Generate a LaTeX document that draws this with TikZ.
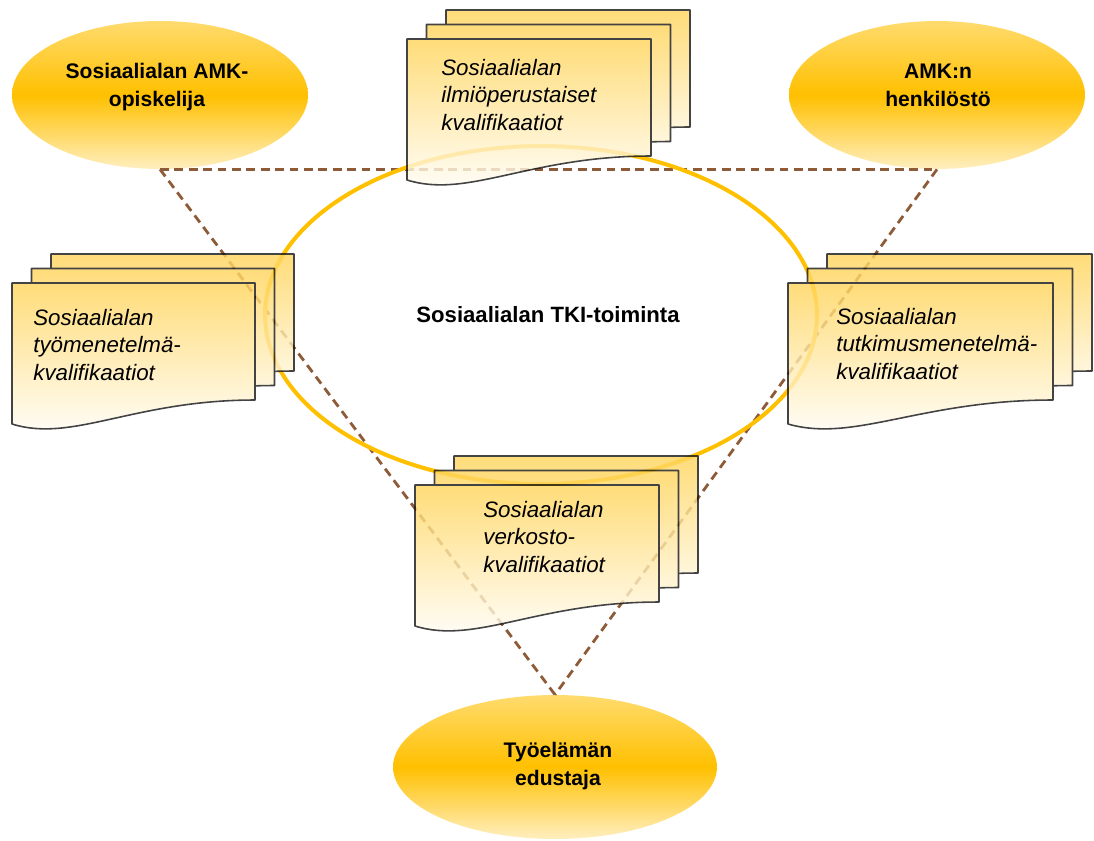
\documentclass[tikz,border=0pt]{standalone}
\usepackage{fontspec}
\setmainfont{Liberation Sans}
\usetikzlibrary{shapes.geometric}
\definecolor{ringc}{HTML}{FFC000}
\definecolor{dashc}{HTML}{8E5B38}
\definecolor{elltop}{HTML}{FFDB6E}
\definecolor{ellmid}{HTML}{FFC000}
\definecolor{ellbot}{HTML}{FFEFC0}
\definecolor{doctop}{HTML}{FFD55C}
\definecolor{docline}{HTML}{1A1A1A}
\tikzset{
  actor/.style={ellipse, inner sep=0pt, top color=elltop, bottom color=ellbot, middle color=ellmid, minimum width=5.92cm, minimum height=2.96cm},
  elltext/.style={font=\fontsize{12}{15.4}\selectfont\bfseries, align=center, inner sep=0pt},
  doctext/.style={font=\fontsize{12.7}{15.4}\selectfont\itshape, align=left, inner sep=0pt},
  docsheetstyle/.style={draw=docline, line width=0.9pt, top color=doctop, bottom color=white, line join=round},
  stackgroup/.style={transparency group, opacity=0.82},
  linkline/.style={draw=dashc, line width=1.6pt, dash pattern=on 5pt off 3.2pt},
  ringstyle/.style={ellipse, draw=ringc, line width=2.3pt, minimum width=11.04cm, minimum height=6.76cm, inner sep=0pt,
    font=\fontsize{12.6}{15}\selectfont\bfseries}
}
\newcommand\docsheet[3]{%
  \begin{scope}[shift={(#1,#2)}]
    \path[docsheetstyle] (0,0) -- (#3,0) -- (#3,117) .. controls ({0.5*#3},117) and ({0.25*#3},160) .. (0,141) -- cycle;
  \end{scope}}
\newcommand\docstack[3]{%
  \begin{scope}[stackgroup]
  \docsheet{#1+39}{#2-29}{#3}%
  \docsheet{#1+19.5}{#2-14.5}{#3}%
  \docsheet{#1}{#2}{#3}%
  \end{scope}}
\begin{document}
\begin{tikzpicture}[x=0.02cm, y=-0.02cm]
  \useasboundingbox (0,0) rectangle (1094,840);
  % actors
  \node[actor] (stud) at (160,95) {};
  \node[actor] (staff) at (937,95) {};
  \node[actor, minimum width=6.48cm, minimum height=2.88cm] (work) at (555,767) {};
  \node[elltext, anchor=base] (studt) at (157,106) {Sosiaalialan AMK-\\opiskelija};
  \node[elltext, anchor=base] (stafft) at (938,106) {AMK:n\\henkilöstö};
  \node[elltext, anchor=base] (workt) at (558,785) {Työelämän\\edustaja};
  % dashed triangle
  \draw[linkline] (stud.south) -- (staff.south);
  \draw[linkline] (stud.south) -- (work.north);
  \draw[linkline] (staff.south) -- (work.north);
  % central ring
  \node[ringstyle] (tki) at (541,315) {\hspace{8pt}Sosiaalialan TKI-toiminta};
  % document stacks
  \docstack{407}{39}{244}
  \docstack{12}{283}{243}
  \docstack{788}{283}{265}
  \docstack{415}{485}{244}
  \node[doctext, anchor=base west] (d1) at (441,130) {Sosiaalialan\\ilmiöperustaiset\\kvalifikaatiot};
  \node[doctext, anchor=base west] (d2) at (33,380) {Sosiaalialan\\työmenetelmä-\\kvalifikaatiot};
  \node[doctext, anchor=base west] (d3) at (836,379) {Sosiaalialan\\tutkimusmenetelmä-\\kvalifikaatiot};
  \node[doctext, anchor=base west] (d4) at (483,572) {Sosiaalialan\\verkosto-\\kvalifikaatiot};
\end{tikzpicture}
\end{document}
